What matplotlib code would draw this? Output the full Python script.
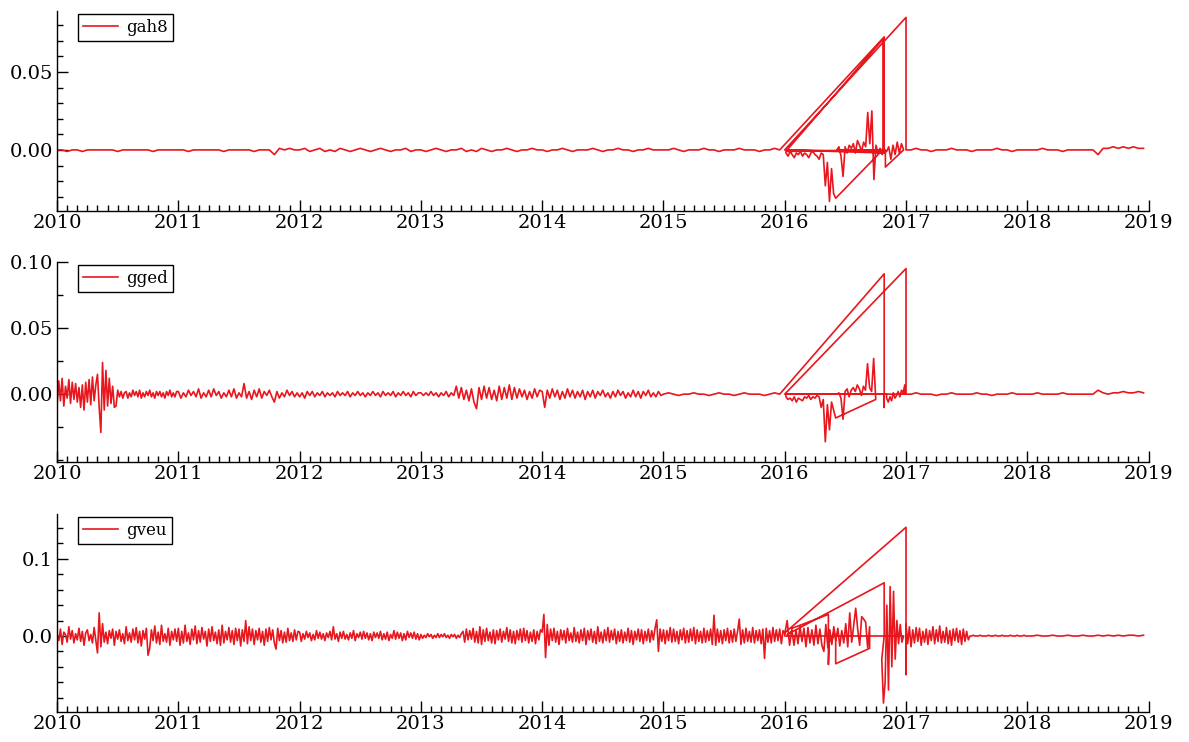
import numpy as np
import matplotlib.pyplot as plt
from matplotlib.ticker import MultipleLocator

plt.rcParams['font.family'] = ['DejaVu Serif']

RED = '#e8161d'

# values are in units of 1e-3
# ---- gah8 ----
gah8_2010 = [0, 0, -1, 0, 0, -1, 0, 0, 0, 0, 0, 0, -1, 0, 0, 0, 0, 0, 0, -1, 0, 0, 0, 0]
gah8_2011 = [0, 0, -1, 0, 0, 0, 0, 0, 0, -1, 0, 0, 0, 0, 0, -1, 0, 0, 0, -3, 1, 0, 1, 0]
gah8_2012 = [0, 1, -1, 0, 1, -1, 0, -1, 1, 0, -1, 0, 1, 0, -1, 0, 1, 0, -1, 0, 0, 1, -1, 0]
gah8_2013 = [0, -1, 0, 1, 0, -1, 0, 0, 1, -1, 0, -1, 1, 0, -1, 0, 0, 1, 0, -1, 0, 0, 1, 0]
gah8_2014 = [0, -1, 0, 0, 1, 0, -1, 0, 0, 0, 1, 0, -1, 0, 0, 1, 0, 0, -1, 0, 0, 1, 0, 0]
gah8_2015 = [0, 0, 1, 0, -1, 0, 0, 0, 1, 0, 0, -1, 0, 0, 0, 1, 0, 0, 0, -1, 0, 0, 1, 0]
gah8_2016 = [
    (2016.82, 2016.82, [72.5]), (2016.82, 2016.82, [-2]), (2016.02, 2016.02, [0]),
    (2016.81, 2016.81, [71]), (2016.81, 2016.81, [0]), (2016.01, 2016.01, [-1]),
    (2016.01, 2016.42, [-2, -4, -1, -3, -5, -2, -3, -1, -4, -2, -3, -5, -2, -1, -3, -4,
                        -6, -2, -3, -23, -8, -33, -12, -28, -31]),
    (2016.82, 2016.82, [1]),
    (2016.82, 2016.43, [2, -3, 1, -2, 3, -19, 25, 4, 24, 2, 5, -1, 3, 6, -2, 4, 1, 3,
                        -2, 2, -17, -4, 2, 0]),
    (2016.83, 2016.83, [0]), (2016.83, 2016.83, [-11]),
    (2016.98, 2016.84, [0, 4, -2, 5, -3, 3, -6, 2, -1]),
    (2016.0, 2016.0, [0]), (2017.0, 2017.0, [85]), (2017.0, 2017.0, [0]),
]
gah8_2017 = [0, 0, 1, 0, 0, -1, 0, 0, 0, 1, 0, 0, 0, -1, 0, 0, 0, 0, 1, 0, 0, -1, 0, 0]
gah8_2018 = [0, 0, 0, 1, 0, 0, 0, -1, 0, 0, 0, 0, 0, 0, -3, 1, 1, 2, 1, 2, 1, 2, 1, 1]

# ---- gged ----
gged_2010 = [-8, 10, -5, 12, -9, 6, -3, 11, -7, 9, -4, 8, -6, 5, -10, 7, -12, 9, -6, 11,
             -8, 13, -5, 7, 15, -10, -29, 24, -12, 18, -9, 12, -7, 6, -10, -9, 3, -2, 2,
             -3, 1, 2, -3, 1, -2, 3, -1, 2, -2, 3, -3, 1, -2, 2, -1, 3, -2, 1, -3, 2, -1,
             2, -2, 1, -3, 2, -1, 3, -2, 1, -2, 2]
gged_2011 = [2, -3, 1, -2, 3, -1, 2, -2, 4, -3, 1, -2, 3, -2, 4, -1, 2, -3, 1, -2, 3, -2,
             4, -3, 1, -2, 8, -3, 2, -4, 3, -2, 4, -3, 2, -1, 3, -2, -6, 2, -3, 1, -2, 3,
             -1, 2, -2, 1]
gged_2012 = [-2, 1, -3, 2, -1, 2, -2, 1, -1, 2, -2, 1, -1, 1, -2, 2, -1, 1, -1, 2, -2, 1,
             -1, 2, -1, 1, -2, 1, -1, 2, -1, 1, -2, 2, -1, 1, -1, 2, -2, 1, -1, 2, -1, 1,
             -2, 2, -1, 1]
gged_2013 = [1, -1, 1, -1, 2, -1, 1, -2, 1, -1, 2, -2, 1, -1, 6, -3, 5, -4, 3, -5, 4, -6,
             -11, 5, -4, 6, -3, 5, -4, 3, -5, 6, -4, 5, -3, 7, -4, 5, -3, 4, -2, 3, -4, 2,
             -3, 4, -2, 3]
gged_2014 = [2, -10, 3, -3, 4, -2, 3, -4, 2, -3, 4, -2, 3, -3, 2, -2, 3, -4, 2, -2, 3, -3,
             2, -1, 3, -2, 1, -3, 2, -2, 3, -1, 2, -3, 1, -2, 3, -2, 2, -3, 2, -1, 3, -2,
             1, -2, 2, -1]
gged_2015 = [0, 1, 0, -1, 0, 0, 1, 0, 0, -1, 0, 1, 0, 0, -1, 0, 1, 0, 0, 0, -1, 0, 1, 0]
gged_2016 = [
    (2016.82, 2016.82, [91]), (2016.82, 2016.82, [-10]), (2016.82, 2016.82, [0]),
    (2016.01, 2016.01, [0]),
    (2016.01, 2016.42, [-2, -4, -3, -5, -2, -6, -3, -4, -5, -2, -3, -1, -4, -2, -3, -1,
                        -2, -10, -4, -36, -8, -27, -6, -12, -18]),
    (2016.75, 2016.75, [-4]),
    (2016.75, 2016.43, [-3, 27, 2, 5, 23, 3, 6, -1, 4, 7, 2, 5, 3, -2, 4, 2, -19, -3, 1, 0]),
    (2016.84, 2016.84, [0]),
    (2016.84, 2016.99, [-3, -6, -2, -5, 1, -3, -1, 2, -2, 3, 1, 7]),
    (2016.99, 2016.99, [0]),
    (2016.0, 2016.0, [0]), (2017.0, 2017.0, [95]), (2017.0, 2017.0, [0]),
]
gged_2017 = [0, 0, 1, 0, 0, 0, -1, 0, 0, 1, 0, 0, 0, 0, 1, 0, 0, -1, 0, 0, 0, 1, 0, 0]
gged_2018 = [0, 0, 1, 0, 0, 0, 0, 1, 0, 0, 0, 0, 0, 0, 3, 1, 0, 1, 1, 2, 1, 1, 2, 1]

# ---- gveu ----
gveu_2010 = [3, -6, 9, -11, 5, 2, -8, 12, -4, 7, -9, 3, -5, 10, -7, 6, -12, 4, 8, -6, 2,
             -9, 11, -5, -22, 30, -14, 16, -8, 5, -10, 7, -3, 9, -12, 6, -4, 8, -7, 3, -10,
             12, -6, 4, -8, 9, -5, 11, -9, 6, -13, 7, -4, 10, -25, -16, 8, -6, 13, -9, 5,
             -11, 14, -7, 3, -8, 10, -12, 6, -5, 9, -7]
gveu_2011 = [10, -12, 6, -9, 14, -7, 4, -11, 9, -5, 13, -10, 7, -8, 11, -4, 6, -13, 9, -7,
             12, -6, 5, -10, 8, -12, 14, -9, 6, -5, 11, -8, 7, -11, 10, -6, 9, -13, 8, -7,
             20, -10, 12, -6, 9, -11, 7, -5, 10, -8, 6, -12, 9, -7, 11, -5, 8, -9, -17, 10,
             -6, 7, -9, 5, -8, 10, -6, 4, -7, 8, -5, 6]
gveu_2012 = [5, -7, 3, -4, 6, -2, 4, -6, 2, -5, 7, -3, 5, -4, 3, -6, 4, -2, 6, -5, 12, -4,
             3, -7, 5, -3, 6, -4, 2, -5, 4, -3, 7, -6, 3, -2, 5, -4, 6, -3, 4, -5, 3, -6, 5,
             -2, 4, -3, 6, -5, 3, -4, 5, -6, 2, -3, 7, -4, 5, -3, 4, -6, 3, -5, 6, -2, 4,
             -3, 5, -4, 3, -5]
gveu_2013 = [2, -3, 1, -2, 3, -1, 2, -3, 1, -2, 3, -2, 2, -1, 3, -2, 1, -3, 2, -1, 2, -3,
             1, -2, 3, 6, -8, 9, -5, 7, -4, 10, -8, 6, -9, 12, -11, 8, -7, 10, -6, 5, -9, 8,
             -10, 7, -5, 9, -8, 6, -4, 11, -7, 8, -9, 6, -10, 7, -5, 9, -8, 10, -6, 7, -9,
             5, -7, 8, -10, 6, -5, 8]
gveu_2014 = [5, 28, -28, 15, -12, 9, -6, 10, -8, 6, -11, 8, -5, 7, -9, 10, -6, 4, -8, 11,
             -7, 5, -9, 8, -6, 10, -11, 7, -5, 9, -8, 6, -10, 12, -7, 5, -9, 8, -6, 11, -8,
             7, -5, 9, -10, 6, -7, 8, -9, 5, -6, 10, -8, 7, -11, 6, -5, 9, -7, 8, -10, 6,
             -6, 9, -8, 7, -5, 10, 21, -20, 9, -7]
gveu_2015 = [8, -10, 7, -6, 11, -8, 9, -7, 6, -10, 8, -5, 10, -9, 7, -8, 9, -6, 11, -10, 8,
             -7, 6, -9, 10, -8, 7, -6, 9, -11, 27, -12, 9, -8, 7, -10, 8, -6, 10, -9, 7, -8,
             9, -7, 6, 22, -11, 8, -9, 10, -7, 6, -8, 11, -9, 7, -6, 8, -10, 9, -29, 10,
             -8, 7, -9, 11, -7, 8, -6, 9, -10, 7]
gveu_2016 = [
    (2016.0, 2016.06, [3, 20, -12, 10]),
    (2016.36, 2016.36, [28]), (2016.36, 2016.36, [-37]),
    (2016.37, 2016.42, [5, -8, 4, 0]),
    (2016.42, 2016.42, [-36]), (2016.70, 2016.70, [-16]),
    (2016.70, 2016.06, [12, -15, 18, 22, 25, -12, 9, 36, 14, -8, 30, -14, 16, -9, 7, -13,
                        10, -6, 12, -11, 8, -15, 15, -20, -12, 9, -10, 14, -12, 8, -9, 11,
                        -14, 10, -7, 13, -10, 8, -12, 6]),
    (2016.02, 2016.02, [2]), (2016.82, 2016.82, [69]), (2016.82, 2016.82, [0]),
    (2016.80, 2016.98, [-30, -87, -60, 40, -70, 64, -40, 58, -30, 20, -10, 15, -8, 0]),
    (2016.0, 2016.0, [0]), (2016.0, 2016.0, [4]), (2017.0, 2017.0, [141]),
    (2017.0, 2017.0, [-50]),
]
gveu_2017 = [15, -10, 12, -14, 8, -9, 11, -7, 10, -12, 6, -8, 9, -11, 7, -6, 12, -10, 8,
             -7, 13, -9, 6, -8, 11, -10, 7, -12, 9, -6, 10, -8, 7, -11, 9, -7, 6, -5, 0, 0,
             1, 0, 0, 0, 1, 0, 0, 0, 0, 1, 0, 0, 0, 1, 0, 0, 0, 1, 0, 0, 0, 0, 1, 0, 0, 0,
             1, 0, 0, 0, 1, 0]
gveu_2018 = [0, 0, 1, 0, 0, 1, 0, 0, 1, 0, 0, 1, 0, 0, 1, 0, 1, 0, 1, 0, 1, 1, 0, 1]

names = ['gah8', 'gged', 'gveu']


def yearly(first_year, lists):
    xs, ys = [], []
    for i, vals in enumerate(lists):
        n = len(vals)
        xs.extend(first_year + i + np.arange(n) / n)
        ys.extend(vals)
    return xs, ys


def pieces(segs):
    xs, ys = [], []
    for x0, x1, vals in segs:
        xs.extend(np.linspace(x0, x1, len(vals)))
        ys.extend(vals)
    return xs, ys


def series(before, mess, after):
    x1, y1 = yearly(2010, before)
    x2, y2 = pieces(mess)
    x3, y3 = yearly(2017, after)
    return np.array(x1 + x2 + x3), np.array(y1 + y2 + y3) * 1e-3


data = [
    series([gah8_2010, gah8_2011, gah8_2012, gah8_2013, gah8_2014, gah8_2015],
           gah8_2016, [gah8_2017, gah8_2018]),
    series([gged_2010, gged_2011, gged_2012, gged_2013, gged_2014, gged_2015],
           gged_2016, [gged_2017, gged_2018]),
    series([gveu_2010, gveu_2011, gveu_2012, gveu_2013, gveu_2014, gveu_2015],
           gveu_2016, [gveu_2017, gveu_2018]),
]

ylims = [(-0.039, 0.089), (-0.0515, 0.100), (-0.099, 0.158)]
yticks = [[0.0, 0.05], [0.0, 0.05, 0.10], [0.0, 0.1]]
ylabels = [['0.00', '0.05'], ['0.00', '0.05', '0.10'], ['0.0', '0.1']]
yminor = [0.01, 0.025, 0.02]
boxes = [(0.048, 0.716, 0.918, 0.269), (0.048, 0.377, 0.918, 0.270),
         (0.048, 0.040, 0.918, 0.267)]

fig = plt.figure(figsize=(11.89, 7.42), dpi=100)

for i in range(3):
    ax = fig.add_axes(boxes[i])
    x, y = data[i]
    line, = ax.plot(x, y, color=RED, lw=1.2)
    ax.set_xlim(2010, 2019)
    ax.set_ylim(*ylims[i])
    ax.set_xticks(range(2010, 2020))
    ax.set_xticklabels([str(v) for v in range(2010, 2020)])
    ax.xaxis.set_minor_locator(MultipleLocator(1 / 12))
    ax.set_yticks(yticks[i])
    ax.set_yticklabels(ylabels[i])
    ax.yaxis.set_minor_locator(MultipleLocator(yminor[i]))
    for s in ['top', 'right']:
        ax.spines[s].set_visible(False)
    for s in ['left', 'bottom']:
        ax.spines[s].set_linewidth(1.0)
    ax.tick_params(which='both', direction='in', width=1.0, labelsize=14)
    ax.tick_params(which='major', length=8)
    ax.tick_params(which='minor', length=4)
    ax.tick_params(axis='x', pad=2)
    ax.tick_params(axis='y', pad=3)
    leg = ax.legend([line], [names[i]], loc='upper left',
                    bbox_to_anchor=(21 / 1092, 1 - 3 / 200), borderaxespad=0,
                    fancybox=False, edgecolor='black', framealpha=1, fontsize=12,
                    handlelength=2.1, handletextpad=0.5, borderpad=0.3)
    leg.get_frame().set_linewidth(1.0)

fig.savefig('out.png', dpi=100)
